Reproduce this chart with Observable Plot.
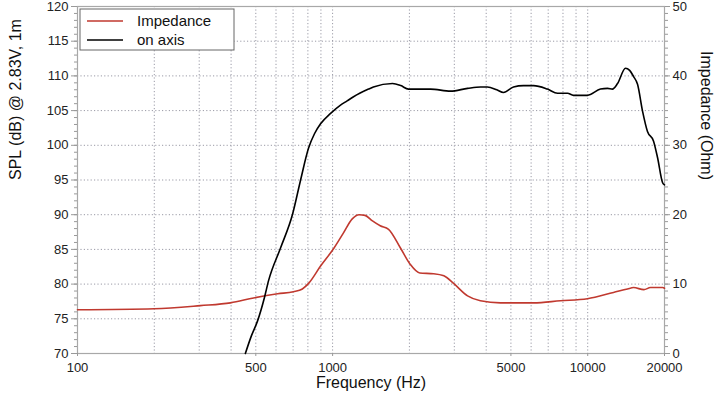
<!DOCTYPE html>
<html><head><meta charset="utf-8">
<script src="https://cdn.jsdelivr.net/npm/d3@7"></script>
<script src="https://cdn.jsdelivr.net/npm/@observablehq/plot@0.6"></script>
<style>body{margin:0;background:#fff}</style>
</head><body><div id="chart"></div>
<script>
// On-axis SPL (dB) vs frequency (Hz)
const splFreq = [455,480,508,540,561,625,697,748,805,850,897,982,1074,1140,1208,1383,1445,1717,1850,1983,2421,2898,3381,3802,4045,4400,4677,5117,5600,6138,6954,7617,8338,8790,9975,11220,11960,12500,13090,14060,14600,15130,15680,16410,17150,18120,18790,19660,20000];
const splDb   = [70.0,72.5,74.7,78.0,80.5,85.2,90.1,94.9,99.6,101.7,103.1,104.6,105.8,106.4,107.0,108.1,108.4,108.9,108.6,108.1,108.1,107.8,108.2,108.4,108.4,108.0,107.6,108.4,108.6,108.6,108.1,107.5,107.5,107.2,107.2,108.1,108.2,108.1,108.9,111.1,110.8,109.9,108.8,104.9,102.0,100.6,98.2,94.6,94.3];
// Impedance (Ohm) vs frequency (Hz)
const impFreq = [100,200,303,398,490,609,702,761,805,897,1013,1100,1194,1270,1340,1433,1537,1657,1845,2010,2197,2488,2730,2980,3381,3795,4549,6138,7818,9975,12620,14320,15130,16610,17620,19660,20000];
const impOhm  = [6.3,6.45,6.9,7.3,8.0,8.6,8.9,9.3,10.1,12.6,15.2,17.3,19.4,20.0,19.9,19.1,18.4,17.9,15.2,12.9,11.6,11.5,11.2,10.1,8.3,7.6,7.3,7.3,7.6,7.9,8.8,9.3,9.5,9.2,9.5,9.5,9.4];

const xTickLabels = [100,500,1000,5000,10000,20000];
const xGridLines = [200,300,400,500,600,700,800,900,1000,2000,3000,4000,5000,6000,7000,8000,9000,10000];
const splTicks = [70,75,80,85,90,95,100,105,110,115,120];
const splGrid = [75,80,85,90,95,100,105,110,115];
const ohmTicks = [0,10,20,30,40,50];
const splMinor = d3.range(70,121,1);
const ohmMinor = d3.range(0,51,1);
const seriesNames = ["Impedance","on axis"];
const seriesColors = ["#c0392f","#000000"];
const axisTitles = {x:"Frequency (Hz)", yLeft:"SPL (dB) @ 2.83V, 1m", yRight:"Impedance (Ohm)"};

const OHM_OFFSET = 70; // right axis: 0..50 Ohm shares the 70..120 dB range
const spl = splFreq.map((f,i)=>({f, v: splDb[i]}));
const imp = impFreq.map((f,i)=>({f, v: impOhm[i] + OHM_OFFSET}));

const font = "'Liberation Sans', Arial, Helvetica, sans-serif";
const chart = Plot.plot({
  width: 720, height: 398,
  marginLeft: 77, marginRight: 56, marginTop: 6, marginBottom: 45,
  style: {fontFamily: font, fontSize: "13px", color: "#222", background: "#fff"},
  x: {type: "log", domain: [100,20000]},
  y: {domain: [70,120]},
  marks: [
    Plot.gridX(xGridLines, {stroke: "#9a9aa6", strokeOpacity: 1, strokeDasharray: "1.2,2.2", strokeWidth: 1}),
    Plot.gridY(splGrid, {stroke: "#9a9aa6", strokeOpacity: 1, strokeDasharray: "1.2,2.2", strokeWidth: 1}),
    Plot.frame({stroke: "#a8a8a8", strokeWidth: 1.2}),
    Plot.axisY({ticks: splMinor, tickSize: 3, tickFormat: () => "", label: null, stroke: "#999"}),
    Plot.axisY({ticks: splTicks, tickSize: 6, tickPadding: 3, label: null, stroke: "#999", fill: "#222"}),
    Plot.axisY({anchor: "right", ticks: ohmMinor.map(d => d + OHM_OFFSET), tickSize: 3, tickFormat: () => "", label: null, stroke: "#999"}),
    Plot.axisY({anchor: "right", ticks: ohmTicks.map(d => d + OHM_OFFSET), tickSize: 5, tickPadding: 3, tickFormat: d => String(d - OHM_OFFSET), label: null, stroke: "#999", fill: "#222"}),
    Plot.axisX({ticks: xTickLabels, tickSize: 3, tickPadding: 6, tickFormat: d => String(d), label: null, stroke: "#999", fill: "#222"}),
    Plot.line(imp, {x: "f", y: "v", stroke: seriesColors[0], strokeWidth: 1.6, curve: "monotone-x"}),
    Plot.line(spl, {x: "f", y: "v", stroke: seriesColors[1], strokeWidth: 1.6, curve: "monotone-x"}),
    Plot.text([axisTitles.x], {frameAnchor: "bottom", dy: 34, fontSize: 16, fill: "#111", text: d => d}),
    Plot.text([axisTitles.yLeft], {frameAnchor: "left", dx: -62, rotate: -90, fontSize: 16, fill: "#111", text: d => d}),
    Plot.text([axisTitles.yRight], {frameAnchor: "right", dx: 42, rotate: 90, fontSize: 16, fill: "#111", text: d => d})
  ]
});
document.getElementById("chart").appendChild(chart);

// legend box inside the plot (top-left)
const svg = d3.select(chart);
const lg = svg.append("g").attr("transform", "translate(80,9)").attr("font-family", font).attr("text-anchor", "start");
lg.append("rect").attr("width", 154).attr("height", 41).attr("fill", "#fff").attr("stroke", "#666").attr("stroke-width", 1);
seriesNames.forEach((name, i) => {
  const y = 12 + i * 19;
  lg.append("line").attr("x1", 7).attr("x2", 43).attr("y1", y).attr("y2", y).attr("stroke", seriesColors[i]).attr("stroke-width", 1.6);
  lg.append("text").attr("x", 57).attr("y", y).attr("dy", "0.35em").attr("text-anchor", "start").attr("font-size", 15).attr("fill", "#111").text(name);
});
</script>
</body></html>
